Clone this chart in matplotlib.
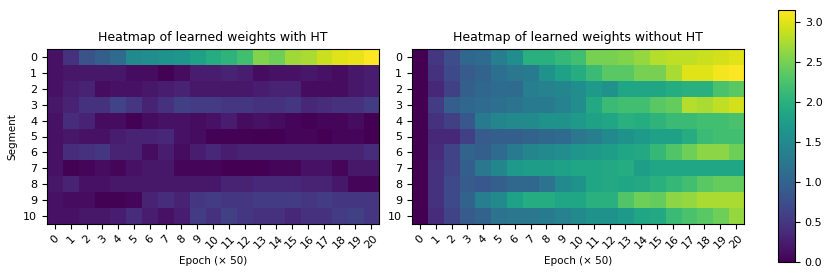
import numpy as np
import matplotlib
matplotlib.use("Agg")
import matplotlib.pyplot as plt

# weights learned with HT (rows = segment, cols = epoch x 50)
w_with_ht = [
    [0.15, 0.45, 0.80, 0.95, 1.10, 1.50, 1.55, 1.60, 1.65, 1.80, 1.95, 2.05, 2.20, 2.55, 2.45, 2.70, 2.75, 2.90, 3.00, 3.05, 3.15],
    [0.15, 0.20, 0.20, 0.20, 0.20, 0.10, 0.10, 0.02, 0.10, 0.25, 0.25, 0.30, 0.25, 0.10, 0.15, 0.15, 0.20, 0.15, 0.10, 0.20, 0.25],
    [0.15, 0.25, 0.30, 0.10, 0.15, 0.15, 0.20, 0.25, 0.30, 0.20, 0.20, 0.20, 0.20, 0.25, 0.30, 0.30, 0.10, 0.10, 0.10, 0.20, 0.25],
    [0.20, 0.30, 0.45, 0.45, 0.65, 0.50, 0.30, 0.45, 0.60, 0.55, 0.55, 0.50, 0.50, 0.45, 0.45, 0.50, 0.35, 0.40, 0.45, 0.45, 0.55],
    [0.15, 0.40, 0.30, 0.10, 0.10, 0.02, 0.10, 0.15, 0.15, 0.10, 0.15, 0.25, 0.10, 0.15, 0.10, 0.05, 0.02, 0.05, 0.05, 0.10, 0.00],
    [0.15, 0.20, 0.15, 0.15, 0.25, 0.30, 0.30, 0.35, 0.15, 0.10, 0.02, 0.02, 0.02, 0.00, 0.00, 0.05, 0.05, 0.00, 0.05, 0.05, 0.00],
    [0.15, 0.40, 0.45, 0.50, 0.30, 0.30, 0.10, 0.25, 0.10, 0.25, 0.35, 0.25, 0.30, 0.30, 0.30, 0.30, 0.30, 0.30, 0.30, 0.30, 0.40],
    [0.15, 0.02, 0.05, 0.10, 0.05, 0.15, 0.20, 0.20, 0.05, 0.05, 0.05, 0.00, 0.00, 0.00, 0.05, 0.05, 0.15, 0.15, 0.05, 0.20, 0.20],
    [0.20, 0.30, 0.15, 0.15, 0.20, 0.20, 0.20, 0.20, 0.20, 0.20, 0.20, 0.30, 0.30, 0.35, 0.35, 0.35, 0.30, 0.30, 0.20, 0.05, 0.05],
    [0.15, 0.10, 0.10, 0.02, 0.02, 0.05, 0.30, 0.40, 0.30, 0.50, 0.55, 0.50, 0.50, 0.55, 0.55, 0.55, 0.50, 0.55, 0.50, 0.50, 0.50],
    [0.15, 0.15, 0.20, 0.20, 0.25, 0.40, 0.25, 0.15, 0.25, 0.55, 0.45, 0.60, 0.50, 0.45, 0.45, 0.35, 0.45, 0.45, 0.55, 0.60, 0.50],
]

# weights learned without HT
w_without_ht = [
    [0.0, 0.50, 0.75, 1.05, 1.10, 1.35, 1.55, 2.00, 2.00, 2.10, 2.20, 2.50, 2.50, 2.55, 2.65, 2.80, 2.85, 2.85, 2.90, 2.95, 3.00],
    [0.0, 0.45, 0.70, 0.90, 1.00, 1.15, 1.25, 1.30, 1.60, 1.80, 1.95, 2.15, 2.35, 2.35, 2.50, 2.50, 2.75, 3.00, 3.00, 3.10, 3.15],
    [0.0, 0.35, 0.60, 0.95, 1.05, 1.10, 1.10, 1.35, 1.40, 1.45, 1.55, 1.70, 1.60, 1.85, 1.85, 1.85, 1.95, 2.00, 2.00, 2.25, 2.35],
    [0.0, 0.55, 0.95, 1.05, 1.10, 1.15, 1.20, 1.30, 1.30, 1.40, 1.55, 1.90, 2.15, 2.20, 2.20, 2.35, 2.40, 2.80, 2.75, 2.85, 2.95],
    [0.0, 0.45, 0.60, 0.85, 1.30, 1.45, 1.50, 1.50, 1.60, 1.60, 1.70, 1.80, 1.85, 2.00, 1.95, 2.05, 2.15, 2.15, 2.20, 2.20, 2.25],
    [0.0, 0.35, 0.35, 0.60, 0.90, 0.95, 0.95, 1.00, 1.05, 1.10, 1.25, 1.35, 1.50, 1.60, 1.70, 1.80, 1.80, 1.95, 2.15, 2.20, 2.20],
    [0.0, 0.40, 0.65, 1.00, 0.95, 1.10, 1.30, 1.45, 1.50, 1.55, 1.65, 1.70, 1.75, 1.85, 1.90, 2.10, 2.30, 2.45, 2.60, 2.60, 2.45],
    [0.0, 0.45, 0.65, 0.95, 1.25, 1.45, 1.70, 1.75, 1.75, 1.80, 1.85, 1.85, 1.90, 1.95, 1.75, 1.85, 1.85, 1.85, 1.85, 1.85, 1.85],
    [0.0, 0.45, 0.70, 0.90, 0.85, 0.95, 1.05, 1.05, 1.20, 1.50, 1.60, 1.85, 1.90, 1.85, 1.90, 2.00, 2.10, 2.20, 2.35, 2.40, 2.40],
    [0.0, 0.45, 0.70, 1.00, 1.35, 1.50, 1.80, 1.95, 1.95, 1.85, 1.85, 2.00, 2.00, 2.30, 2.45, 2.40, 2.60, 2.65, 2.75, 2.75, 2.75],
    [0.0, 0.40, 0.65, 0.90, 1.00, 1.20, 1.25, 1.25, 1.30, 1.40, 1.50, 1.60, 1.60, 1.70, 1.85, 1.90, 2.15, 2.25, 2.35, 2.45, 2.65],
]

titles = ["Heatmap of learned weights with HT", "Heatmap of learned weights without HT"]
epochs = list(range(21))
segments = list(range(11))

A = np.array(w_with_ht)
B = np.array(w_without_ht)
vmax = max(A.max(), B.max())

fig = plt.figure(figsize=(8.3, 2.8), dpi=100)
ax1 = fig.add_axes([0.0566, 0.2, 0.4, 0.625])
ax2 = fig.add_axes([0.4964, 0.2, 0.4, 0.625])
cax = fig.add_axes([0.9373, 0.064, 0.0205, 0.9])

for ax, data, title in [(ax1, A, titles[0]), (ax2, B, titles[1])]:
    im = ax.imshow(data, cmap="viridis", vmin=0, vmax=vmax, aspect="auto",
                   interpolation="nearest")
    ax.set_title(title, fontsize=9)
    ax.set_xticks(epochs)
    ax.set_xticklabels([str(e) for e in epochs], rotation=45, fontsize=8)
    ax.set_yticks(segments)
    ax.set_yticklabels([str(s) for s in segments], fontsize=8)
    ax.set_xlabel("Epoch (× 50)", fontsize=7.5)

ax1.set_ylabel("Segment", fontsize=7.5)

cb = fig.colorbar(im, cax=cax)
cb.ax.tick_params(labelsize=8)

fig.savefig("out.png", dpi=100)
